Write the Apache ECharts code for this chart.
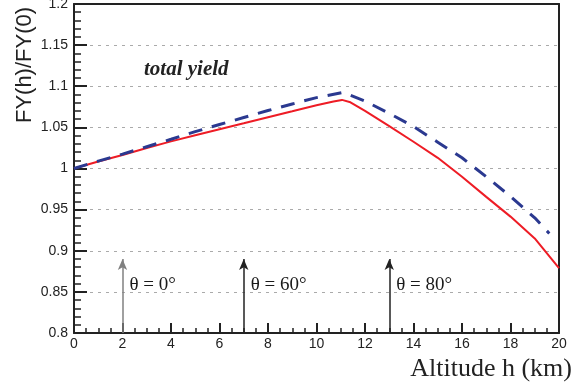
<!DOCTYPE html>
<html>
<head>
<meta charset="utf-8">
<script src="https://cdn.jsdelivr.net/npm/echarts@6/dist/echarts.min.js"></script>
<style>
  html, body { margin: 0; padding: 0; background: #fff; }
  #chart { width: 582px; height: 389px; }
</style>
</head>
<body>
<div id="chart"></div>
<script>
// Altitude (km) and relative fluorescence yield FY(h)/FY(0)
const altRed = [0, 1, 2, 3, 4, 5, 6, 7, 8, 9, 10, 10.7, 11.05, 11.4, 12, 13, 14, 15, 16, 17, 18, 19, 20];
const yieldRed = [1.0, 1.0085, 1.0165, 1.025, 1.033, 1.0405, 1.0478, 1.055, 1.0623, 1.0695, 1.0768, 1.0815, 1.0834, 1.0805,
                  1.070, 1.0515, 1.0325, 1.013, 0.990, 0.9655, 0.9415, 0.915, 0.879];

const altBlue = [0, 1, 2, 3, 4, 5, 6, 7, 8, 9, 10, 11.1, 12, 13, 14, 15, 16, 17, 18, 19, 19.6];
const yieldBlue = [1.0, 1.009, 1.0175, 1.0265, 1.0355, 1.0448, 1.0535, 1.062, 1.0705, 1.0785, 1.0862, 1.0925,
                   1.082, 1.067, 1.051, 1.032, 1.013, 0.990, 0.966, 0.940, 0.921];

// Zenith-angle markers: altitude of each arrow and its label
const arrowAlt = [2, 7, 13];
const arrowLabels = ['θ = 0°', 'θ = 60°', 'θ = 80°'];
const arrowColors = ['#808080', '#222', '#222'];
const arrowBase = 0.8;
const arrowTip = 0.89;
const labelLevel = 0.858;

const serif = '"Liberation Serif", "DejaVu Serif", serif';
const sans = '"Liberation Sans", Arial, sans-serif';

const pairs = (xs, ys) => xs.map((x, i) => [x, ys[i]]);

const W = 582, H = 389;
const padL = 74, padR = 23, padT = 4, padB = 56;
const plotH = H - padT - padB;
const majorLenY = 13, minorLenY = 7;

const chart = echarts.init(document.getElementById('chart'), null, { renderer: 'canvas' });

const frameLine = { show: true, onZero: false, lineStyle: { color: '#222', width: 2 } };
const tickStyle = { color: '#222', width: 2 };
const minorStyle = { color: '#222', width: 1.5 };
const yRange = { type: 'value', min: 0.8, max: 1.2, interval: 0.05 };

chart.setOption({
  animation: false,
  backgroundColor: '#fff',
  grid: { left: padL, right: padR, top: padT, bottom: padB, containLabel: false, outerBoundsMode: 'none', show: false },
  xAxis: [{
    // bottom axis: line and labels
    type: 'value', min: 0, max: 20, interval: 2, position: 'bottom',
    axisLine: frameLine,
    axisTick: { show: false },
    axisLabel: { color: '#222', fontFamily: sans, fontSize: 14, margin: 4 },
    splitLine: { show: false }
  }, {
    // top frame edge
    type: 'value', min: 0, max: 20, interval: 2, position: 'top',
    axisLine: frameLine,
    axisTick: { show: false }, axisLabel: { show: false }, splitLine: { show: false }
  }, {
    // ticks pointing up into the plot from the bottom edge
    type: 'value', min: 0, max: 20, interval: 2, position: 'top', offset: -plotH,
    axisLine: { show: false, onZero: false },
    axisTick: { show: true, length: 10, lineStyle: tickStyle },
    minorTick: { show: true, splitNumber: 4, length: 5, lineStyle: minorStyle },
    axisLabel: { show: false }, splitLine: { show: false }
  }],
  yAxis: [Object.assign({
    // left axis: line, labels and grid lines
    position: 'left',
    axisLine: frameLine,
    axisTick: { show: false },
    axisLabel: { color: '#222', fontFamily: sans, fontSize: 14, margin: 6 },
    splitLine: { show: true, lineStyle: { color: '#aaa', width: 1, type: [3, 5] } }
  }, yRange), Object.assign({
    // right frame edge
    position: 'right',
    axisLine: frameLine,
    axisTick: { show: false }, axisLabel: { show: false }, splitLine: { show: false }
  }, yRange), Object.assign({
    // major ticks: axis shifted into the plot, ticks reaching back to the frame
    position: 'left', offset: -majorLenY,
    axisLine: { show: false, onZero: false },
    axisTick: { show: true, length: majorLenY, lineStyle: tickStyle },
    axisLabel: { show: false }, splitLine: { show: false }
  }, yRange), Object.assign({
    // minor ticks, same idea with a shorter reach
    position: 'left', offset: -minorLenY,
    axisLine: { show: false, onZero: false },
    axisTick: { show: false },
    minorTick: { show: true, splitNumber: 5, length: minorLenY, lineStyle: minorStyle },
    axisLabel: { show: false }, splitLine: { show: false }
  }, yRange)],
  graphic: [
    {
      type: 'text', x: 25, y: 65, rotation: Math.PI / 2,
      style: { text: 'FY(h)/FY(0)', font: '22px ' + sans, fill: '#222', align: 'center', verticalAlign: 'middle' }
    },
    {
      type: 'text', left: 144, top: 59,
      style: { text: 'total yield', font: 'italic bold 21px ' + serif, fill: '#222' }
    },
    {
      type: 'text', right: 10, top: 356,
      style: { text: 'Altitude h (km)', font: '26px ' + serif, fill: '#222' }
    }
  ],
  series: [
    {
      type: 'line', data: pairs(altRed, yieldRed),
      showSymbol: false, smooth: false,
      lineStyle: { color: '#ee1c25', width: 2 }, z: 3
    },
    {
      type: 'line', data: pairs(altBlue, yieldBlue),
      showSymbol: false, smooth: false,
      lineStyle: { color: '#2b3990', width: 3, type: [14, 10] }, z: 4
    },
    {
      type: 'scatter', symbolSize: 0, itemStyle: { opacity: 1 },
      data: arrowAlt.map((a, i) => [a, labelLevel, arrowLabels[i]]),
      label: {
        show: true, position: 'right', distance: 7,
        formatter: p => p.value[2],
        fontFamily: serif, fontSize: 19, color: '#1a1a1a'
      },
      markLine: {
        silent: true, symbol: ['none', 'arrow'], symbolSize: [7, 11],
        label: { show: false },
        data: arrowAlt.map((a, i) => [
          { coord: [a, arrowBase], lineStyle: { color: arrowColors[i], width: 1.5, type: 'solid' }, itemStyle: { color: arrowColors[i] } },
          { coord: [a, arrowTip] }
        ])
      },
      z: 2
    }
  ]
});
</script>
</body>
</html>
